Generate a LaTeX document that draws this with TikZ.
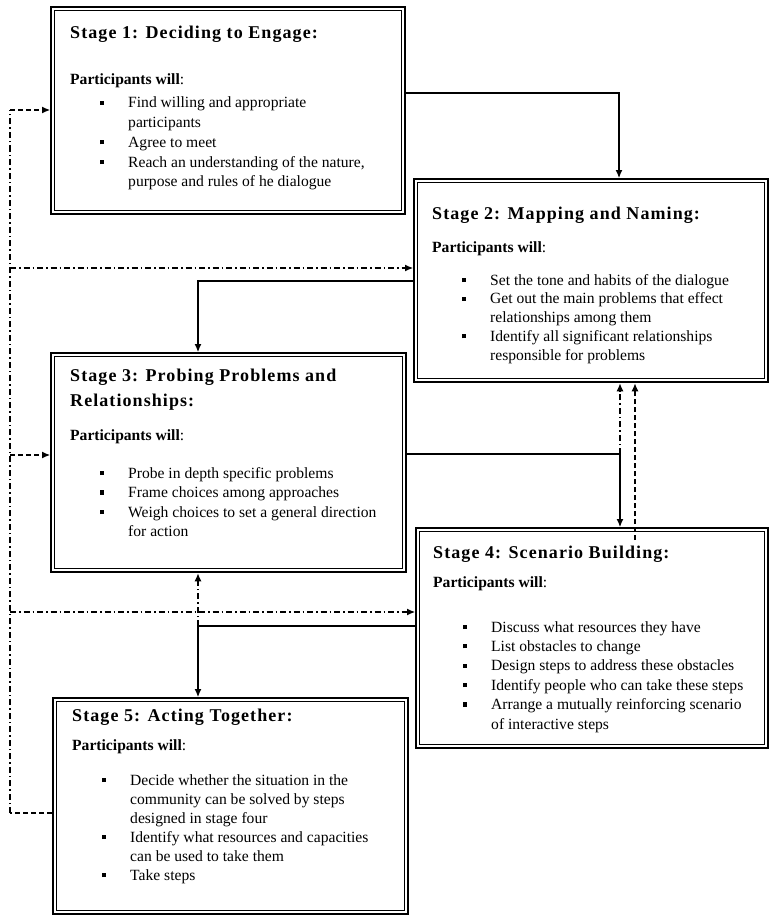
\documentclass[tikz,border=0pt]{standalone}
\usepackage{fontspec}
\setmainfont{Liberation Serif}
\usetikzlibrary{arrows.meta}
\newcommand\ttl{\fontsize{18}{18}\selectfont\bfseries\addfontfeature{LetterSpace=6}}
\newcommand\pw{{\bfseries Participants will}:}
\newcommand\bl[1]{\hspace*{30pt}\makebox[28pt][l]{\rule[3pt]{4.2pt}{4.2pt}}#1}
\newcommand\cl[1]{\hspace*{58pt}#1}
\newcommand\bodyset[1]{\fontsize{15.6}{#1}\selectfont}
\tikzset{
  boxouter/.style={draw, line width=2.4pt, inner sep=0pt, anchor=north west},
  boxinner/.style={draw, line width=0.9pt},
  txt/.style={anchor=base west, inner sep=0pt},
  plain/.style={line width=1.1pt},
  conn/.style={line width=1.1pt, -{Latex[length=8pt,width=7pt]}},
  dsh/.style={dash pattern=on 5pt off 3pt},
  dshdot/.style={dash pattern=on 6pt off 3pt on 1.5pt off 3pt},
}
\newcommand\stagebox[5]{%
  \node[boxouter, minimum width=#4pt, minimum height=#5pt] (#1) at (#2,#3) {};
  \draw[boxinner] ([shift={(4.5,4.5)}]#1.north west) rectangle ([shift={(-4.5,-4.5)}]#1.south east);
}
\begin{document}
\begin{tikzpicture}[x=1pt,y=-1pt]
\useasboundingbox (0,0) rectangle (769,915);
% boxes
\stagebox{b1}{50}{6}{354}{207}
\stagebox{b2}{413}{178}{354}{203}
\stagebox{b3}{50}{352}{355}{219}
\stagebox{b4}{415}{527}{352}{220}
\stagebox{b5}{52}{697}{355}{216}
% texts
\node[txt] (t1) at (70,39) {\parbox[t]{330pt}{\bodyset{19.7}%
{\ttl Stage 1: Deciding to Engage:}\\[26.3pt]
\pw\\[3.3pt]
\bl{Find willing and appropriate}\\
\cl{participants}\\
\bl{Agree to meet}\\
\bl{Reach an understanding of the nature,}\\
\cl{purpose and rules of he dialogue}}};
\node[txt] (t2) at (432,219) {\parbox[t]{330pt}{\bodyset{18.75}%
{\ttl Stage 2: Mapping and Naming:}\\[14.25pt]
\pw\\[14.25pt]
\bl{Set the tone and habits of the dialogue}\\
\bl{Get out the main problems that effect}\\
\cl{relationships among them}\\
\bl{Identify all significant relationships}\\
\cl{responsible for problems}}};
\node[txt] (t3) at (70,381) {\parbox[t]{330pt}{\bodyset{19.5}%
{\ttl Stage 3: Probing Problems and}\\[5.5pt]
{\ttl Relationships:}\\[14.5pt]
\pw\\[18.5pt]
\bl{Probe in depth specific problems}\\
\bl{Frame choices among approaches}\\
\bl{Weigh choices to set a general direction}\\
\cl{for action}}};
\node[txt] (t4) at (433,558) {\parbox[t]{330pt}{\bodyset{19.4}%
{\ttl Stage 4: Scenario Building:}\\[9.6pt]
\pw\\[25.6pt]
\bl{Discuss what resources they have}\\
\bl{List obstacles to change}\\
\bl{Design steps to address these obstacles}\\
\bl{Identify people who can take these steps}\\
\bl{Arrange a mutually reinforcing scenario}\\
\cl{of interactive steps}}};
\node[txt] (t5) at (72,721) {\parbox[t]{330pt}{\bodyset{19}%
{\ttl Stage 5: Acting Together:}\\[10pt]
\pw\\[16pt]
\bl{Decide whether the situation in the}\\
\cl{community can be solved by steps}\\
\cl{designed in stage four}\\
\bl{Identify what resources and capacities}\\
\cl{can be used to take them}\\
\bl{Take steps}}};
% connector points
\coordinate (k12) at (619,93);
\coordinate (k23) at (198,281);
\coordinate (k34) at (620,454);
\coordinate (k42) at (635,540);
\coordinate (k45) at (198,626);
\coordinate (kL1) at (10,110);
\coordinate (kL2) at (10,268);
\coordinate (kL3) at (10,455);
\coordinate (kL4) at (10,612);
\coordinate (kL5) at (10,813);
% solid forward connectors
\draw[conn] (b1.east |- k12) -| (b2.north -| k12);
\draw[conn] (b2.west |- k23) -| (b3.north -| k23);
\draw[conn] (b3.east |- k34) -| (b4.north -| k34);
\draw[conn] (b4.west |- k45) -| (b5.north -| k45);
% feedback connectors
\draw[conn, dshdot] (k34) -- (b2.south -| k34);
\draw[conn, dsh] (k42) -- (b2.south -| k42);
\draw[conn, dshdot] (k45) -- (b3.south -| k45);
% left loop
\draw[plain, dsh] (b5.west |- kL5) -- (kL5);
\draw[plain, dshdot] (kL5) -- (kL1);
\draw[conn, dsh] (kL1) -- (b1.west |- kL1);
\draw[conn, dshdot] (kL2) -- (b2.west |- kL2);
\draw[conn, dsh] (kL3) -- (b3.west |- kL3);
\draw[conn, dshdot] (kL4) -- (b4.west |- kL4);
\end{tikzpicture}
\end{document}
